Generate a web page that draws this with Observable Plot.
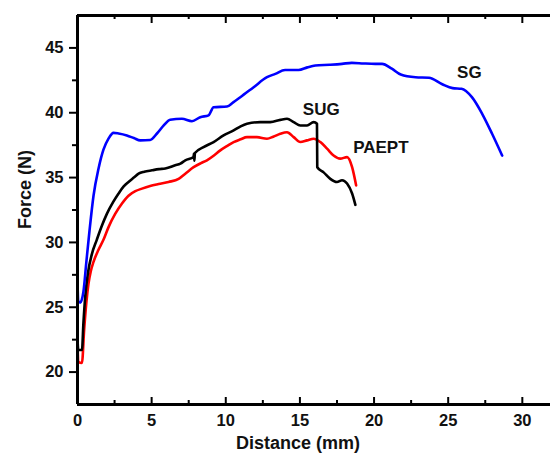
<!DOCTYPE html>
<html><head><meta charset="utf-8">
<script src="https://cdn.jsdelivr.net/npm/d3@7"></script>
<script src="https://cdn.jsdelivr.net/npm/@observablehq/plot@0.6"></script>
<style>
body{margin:0;background:#fff}
svg{font-family:"Liberation Sans",Arial,sans-serif}
</style>
</head><body><div id="chart"></div>
<script>
// Series: SG (blue)
const sgX = [0, 0.05, 0.18, 0.4, 0.59, 0.81, 1.08, 1.42, 1.75, 2.09, 2.43, 2.77, 3.33, 3.8, 4.23, 4.9, 5.36, 5.8, 6.25, 7.04, 7.72, 8.28, 8.84, 9.18, 10.08, 10.5, 10.98, 11.88, 12.78, 13.34, 14.0, 14.91, 15.5, 16.04, 17.0, 17.84, 18.5, 19.3, 20.09, 20.54, 21.2, 21.8, 22.8, 23.7, 24.6, 25.3, 25.9, 26.6, 27.3, 27.96, 28.64];
const sgY = [27.0, 25.5, 25.35, 26.2, 28.4, 30.9, 33.6, 35.7, 37.15, 38.0, 38.45, 38.4, 38.25, 38.05, 37.87, 37.9, 38.4, 39.0, 39.46, 39.54, 39.35, 39.66, 39.8, 40.43, 40.48, 40.8, 41.2, 41.97, 42.74, 43.0, 43.3, 43.3, 43.5, 43.64, 43.7, 43.77, 43.85, 43.8, 43.77, 43.77, 43.4, 42.95, 42.74, 42.7, 42.2, 41.9, 41.85, 41.2, 39.9, 38.38, 36.7];

// Series: SUG (black)
const sugX = [0, 0.05, 0.3, 0.4, 0.52, 0.7, 0.97, 1.3, 1.65, 1.98, 2.4, 2.77, 3.1, 3.44, 3.8, 4.12, 4.5, 5.02, 5.5, 5.92, 6.59, 6.94, 7.27, 7.83, 7.85, 7.88, 7.92, 8.5, 9.18, 9.85, 10.53, 11.0, 11.43, 12.33, 13.0, 13.68, 14.13, 14.58, 15.03, 15.48, 15.93, 16.15, 16.17, 16.6, 17.05, 17.5, 17.84, 18.18, 18.52, 18.74];
const sugY = [22.6, 21.7, 21.7, 23.8, 25.8, 27.6, 29.1, 30.2, 31.3, 32.2, 33.1, 33.77, 34.3, 34.66, 35.0, 35.3, 35.45, 35.56, 35.65, 35.7, 35.95, 36.08, 36.33, 36.58, 36.85, 36.3, 36.9, 37.35, 37.74, 38.25, 38.64, 38.95, 39.15, 39.28, 39.28, 39.45, 39.54, 39.28, 39.02, 39.02, 39.28, 39.15, 35.8, 35.4, 34.9, 34.66, 34.8, 34.54, 33.77, 32.9];

// Series: PAEPT (red)
const paeptX = [0, 0.05, 0.3, 0.45, 0.6, 0.74, 0.9, 1.08, 1.4, 1.75, 2.1, 2.54, 3.0, 3.44, 3.9, 4.35, 4.9, 5.47, 6.14, 6.82, 7.27, 7.83, 8.3, 8.73, 9.2, 9.63, 10.1, 10.53, 11.0, 11.43, 12.1, 12.78, 13.2, 13.68, 14.13, 14.58, 15.03, 15.48, 15.93, 16.38, 16.83, 17.27, 17.72, 18.18, 18.52, 18.79];
const paeptY = [22.5, 20.8, 20.7, 23.3, 25.4, 26.8, 27.8, 28.5, 29.4, 30.2, 31.2, 32.2, 33.0, 33.6, 33.95, 34.15, 34.35, 34.5, 34.66, 34.9, 35.3, 35.8, 36.1, 36.33, 36.7, 37.1, 37.45, 37.74, 37.95, 38.12, 38.12, 38.0, 38.15, 38.38, 38.5, 38.12, 37.74, 37.87, 38.0, 37.74, 37.23, 36.7, 36.46, 36.58, 35.8, 34.4];

// Curve labels
const labelText = ["SG", "SUG", "PAEPT"];
const labelX = [26.43, 16.44, 20.46];
const labelY = [43.1, 40.25, 37.33];

// Axes
const xDomain = [0, 31.9];
const yDomain = [17.5, 47.5];
const xTicks = [0, 5, 10, 15, 20, 25, 30];
const xMinor = [2.5, 7.5, 12.5, 17.5, 22.5, 27.5];
const yTicks = [20, 25, 30, 35, 40, 45];
const yMinor = [22.5, 27.5, 32.5, 37.5, 42.5];

const toRows = (xs, ys) => xs.map((x, i) => ({x, y: ys[i]}));
const sg = toRows(sgX, sgY);
const sug = toRows(sugX, sugY);
const paept = toRows(paeptX, paeptY);
const labels = labelText.map((t, i) => ({t, x: labelX[i], y: labelY[i]}));

const H = 460, MT = 15, MB = 56;
const frameH = H - MT - MB;

const chart = Plot.plot({
  width: 550,
  height: H,
  marginLeft: 77,
  marginRight: 0,
  marginTop: MT,
  marginBottom: MB,
  x: {domain: xDomain},
  y: {domain: yDomain},
  style: {fontFamily: "Liberation Sans, Arial, sans-serif", background: "#fff"},
  marks: [
    Plot.line(paept, {x: "x", y: "y", stroke: "#ff0000", strokeWidth: 2.6, curve: "monotone-x"}),
    Plot.line(sug, {x: "x", y: "y", stroke: "#000000", strokeWidth: 2.6, curve: "monotone-x"}),
    Plot.line(sg, {x: "x", y: "y", stroke: "#0000ff", strokeWidth: 2.6, curve: "monotone-x"}),
    // bottom ticks (inward)
    Plot.tickX(xTicks, {x: d => d, insetTop: frameH - 7, strokeWidth: 2}),
    Plot.tickX(xMinor, {x: d => d, insetTop: frameH - 4, strokeWidth: 2}),
    // top ticks (inward)
    Plot.tickX(xTicks, {x: d => d, insetBottom: frameH - 8, strokeWidth: 2}),
    Plot.tickX(xMinor, {x: d => d, insetBottom: frameH - 4, strokeWidth: 2}),
    Plot.axisX({ticks: xTicks, tickSize: 0, tickPadding: 10, fontSize: 16.5, fontWeight: "bold", fill: "#111", label: null}),
    // left axis (outward ticks)
    Plot.axisY({ticks: yTicks, tickSize: 8, strokeWidth: 2, text: null, label: null}),
    Plot.axisY({ticks: yMinor, tickSize: 5, strokeWidth: 2, text: null, label: null}),
    Plot.axisY({ticks: yTicks, tickSize: 0, tickPadding: 14, fontSize: 16.5, fontWeight: "bold", fill: "#111", label: null}),
    // frame lines
    Plot.ruleY([yDomain[1]], {strokeWidth: 3}),
    Plot.ruleY([yDomain[0]], {strokeWidth: 3}),
    Plot.ruleX([xDomain[0]], {strokeWidth: 3}),
    // curve labels
    Plot.text(labels, {x: "x", y: "y", text: "t", fontSize: 17, fontWeight: "bold", fill: "#111"}),
    // axis titles
    Plot.text(["Distance (mm)"], {frameAnchor: "bottom", text: d => d, dy: 44, dx: -16, fontSize: 18, fontWeight: "bold", fill: "#111", letterSpacing: 0.6}),
    Plot.text(["Force (N)"], {frameAnchor: "left", text: d => d, rotate: -90, dx: -52, dy: 19, fontSize: 18, fontWeight: "bold", fill: "#111"})
  ]
});
document.getElementById("chart").appendChild(chart);
</script>
</body></html>
